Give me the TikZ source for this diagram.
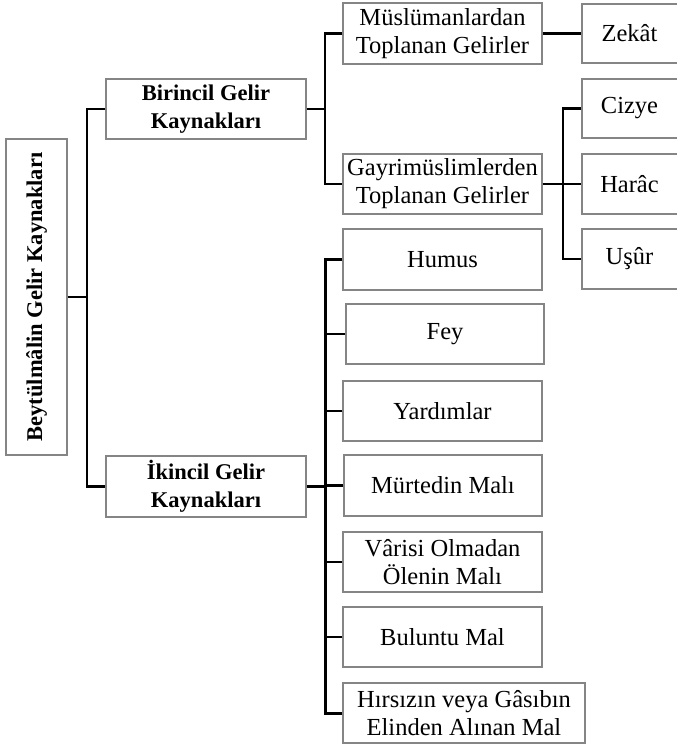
\documentclass[tikz,border=0pt]{standalone}
\usepackage{fontspec}
\setmainfont{Liberation Serif}
\begin{document}
\begin{tikzpicture}[x=1pt,y=-1pt,
  box/.style={draw=black!48, line width=1.2pt, fill=white, align=center, inner sep=0pt,
    font=\fontsize{24.5}{28}\selectfont},
  bbox/.style={box, font=\fontsize{22.5}{28}\selectfont\bfseries},
  conn/.style={draw=black, line width=2.3pt}]
\clip (0,0) rectangle (677,747);
\fill[white] (0,0) rectangle (677,747);
% level 0
\node[bbox, rotate=90, minimum width=316, minimum height=61] (root) at (36.5,297) {Beytülmâlin Gelir Kaynakları};
% level 1
\node[bbox, minimum width=200, minimum height=60] (b1) at (206,109) {Birincil Gelir\\Kaynakları};
\node[bbox, minimum width=200, minimum height=61] (b2) at (206,486.5) {İkincil Gelir\\Kaynakları};
% level 2
\node[box, minimum width=199, minimum height=61] (m1) at (442.5,33.5) {Müslümanlardan\\Toplanan Gelirler};
\node[box, minimum width=199, minimum height=60] (g1) at (442.5,184) {Gayrimüslimlerden\\Toplanan Gelirler};
\node[box, minimum width=199, minimum height=61] (humus) at (442.5,259.5) {Humus};
\node[box, minimum width=198, minimum height=60] (fey) at (445,334) {Fey};
\node[box, minimum width=199, minimum height=60] (yard) at (442.5,411) {Yardımlar};
\node[box, minimum width=198, minimum height=61] (murt) at (443,485.5) {Mürtedin Malı};
\node[box, minimum width=199, minimum height=60] (varis) at (442.5,562) {Vârisi Olmadan\\Ölenin Malı};
\node[box, minimum width=199, minimum height=60] (bulun) at (442.5,637) {Buluntu Mal};
\node[box, minimum width=242, minimum height=60] (hirs) at (464,713) {Hırsızın veya Gâsıbın\\Elinden Alınan Mal};
% level 3
\node[box, minimum width=110, minimum height=59] (zekat) at (637,33.5) {\hspace*{-15pt}Zekât};
\node[box, minimum width=110, minimum height=59] (cizye) at (637,108.5) {\hspace*{-15pt}Cizye};
\node[box, minimum width=110, minimum height=60] (harac) at (637,184) {\hspace*{-15pt}Harâc};
\node[box, minimum width=110, minimum height=60] (usur) at (637,259) {\hspace*{-15pt}Uşûr};
% junctions
\coordinate (t1) at (87,297);
\coordinate (t2) at (325,109);
\coordinate (t3) at (563,184);
\coordinate (t4) at (325,486.5);
% connectors
\draw[conn] (root.south) -- (t1);
\draw[conn] (b1.west) -| (t1) |- (b2.west);
\draw[conn] (b1.east) -- (t2);
\draw[conn] (m1.west) -| (t2) |- (g1.west);
\draw[conn] (m1.east) -- (zekat.west);
\draw[conn] (g1.east) -- (t3);
\draw[conn] (cizye.west) -| (t3) |- (usur.west);
\draw[conn] (t3) -- (harac.west);
\draw[conn] (b2.east) -- (t4);
\draw[conn, line width=3pt] (humus.west) -| (t4) |- (hirs.west);
\draw[conn] (fey.west) -- (fey.west -| t4);
\draw[conn] (yard.west) -- (yard.west -| t4);
\draw[conn] (murt.west) -- (murt.west -| t4);
\draw[conn] (varis.west) -- (varis.west -| t4);
\draw[conn] (bulun.west) -- (bulun.west -| t4);
\end{tikzpicture}
\end{document}
